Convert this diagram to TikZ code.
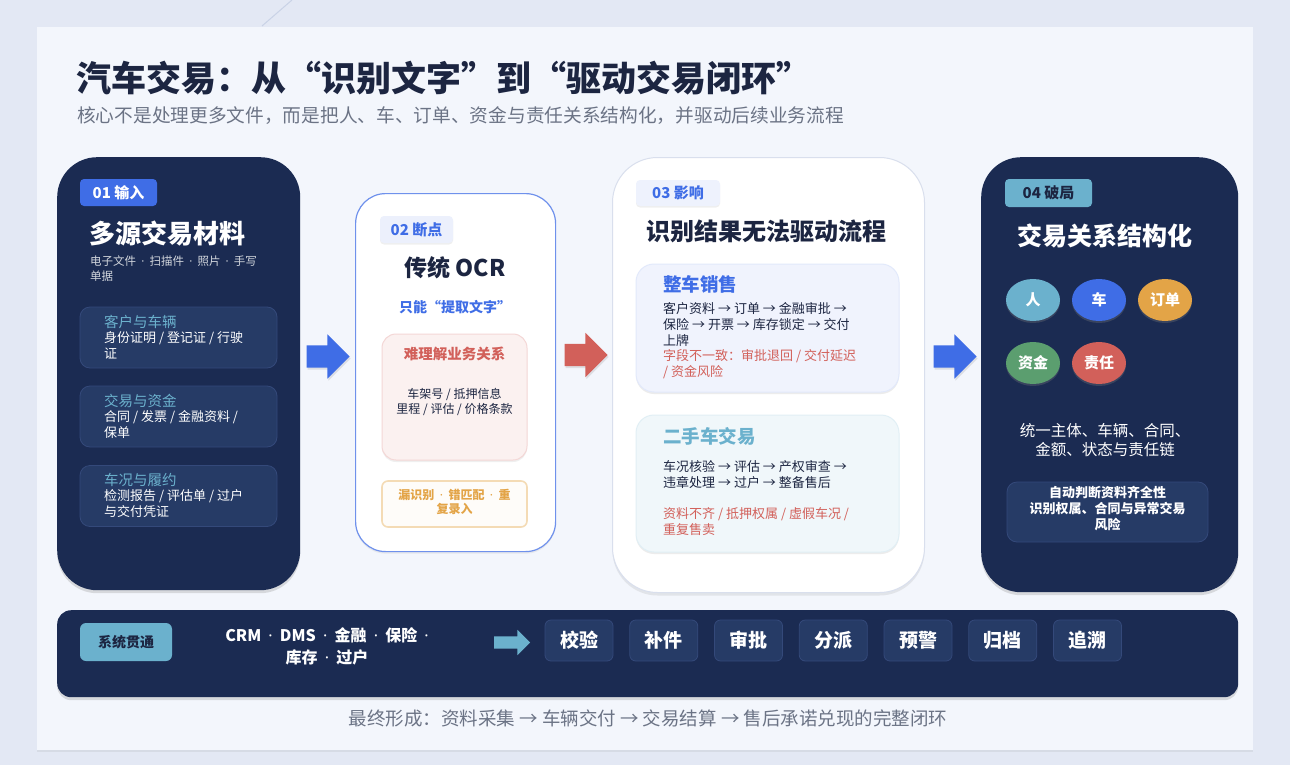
\documentclass[tikz,border=0pt]{standalone}
\usepackage{fontspec}
\setmainfont{Noto Sans CJK SC}
\newfontfamily\latinfont{Noto Sans}
\newcommand{\mdot}{\hspace{0.45em}{\latinfont ·}\hspace{0.45em}}
\usepackage{tikz}
\usetikzlibrary{shapes.geometric,shapes.arrows,shadows}
\definecolor{pagebg}{HTML}{E3E8F4}
\definecolor{panel}{HTML}{F3F6FC}
\definecolor{navy}{HTML}{1B2B52}
\definecolor{subnavy}{HTML}{263B66}
\definecolor{subedge}{HTML}{34497A}
\definecolor{ink}{HTML}{1C2541}
\definecolor{muted}{HTML}{6B7385}
\definecolor{brand}{HTML}{3F6DE6}
\definecolor{teal}{HTML}{6BB1CD}
\definecolor{alert}{HTML}{D2605A}
\definecolor{amber}{HTML}{E3A447}
\definecolor{moss}{HTML}{5B9E6F}
\definecolor{softline}{HTML}{C9D2E6}

\begin{document}
\begin{tikzpicture}[x=1pt,y=-1pt,
  darkcard/.style={fill=navy,rounded corners=40pt,inner sep=0pt,
    drop shadow={opacity=0.25,shadow xshift=0pt,shadow yshift=-3pt}},
  subcard/.style={fill=subnavy,draw=subedge,line width=0.8pt,rounded corners=10pt,inner sep=0pt},
  tagbox/.style={rounded corners=4pt,inner sep=0pt,font=\fontsize{15}{18}\selectfont\bfseries},
  blockarrow/.style={single arrow,single arrow head extend=11pt,inner xsep=0pt,inner ysep=11pt,
    minimum height=43pt,
    drop shadow={opacity=0.2,shadow xshift=1pt,shadow yshift=-2pt}},
  bubble/.style={ellipse,minimum width=54pt,minimum height=42pt,inner sep=0pt,text=white,
    font=\fontsize{15}{18}\selectfont\bfseries,
    drop shadow={opacity=0.3,shadow xshift=0pt,shadow yshift=-2pt}},
  chip/.style={fill=subnavy,draw=subedge,line width=0.8pt,rounded corners=6pt,inner sep=0pt,
    minimum width=68pt,minimum height=41pt,text=white,font=\fontsize{19}{22}\selectfont\bfseries}]
  \useasboundingbox (0,0) rectangle (1290,765);
  \fill[pagebg] (0,0) rectangle (1290,765);
  \draw[softline,line width=1pt] (262,26) -- (292,0);
  \node[fill=panel,minimum width=1216pt,minimum height=723pt,inner sep=0pt,anchor=north west,
    drop shadow={opacity=0.12,shadow xshift=0pt,shadow yshift=-2pt}] (page) at (37,27) {};

  % heading
  \node[anchor=west,inner sep=0pt,text=ink,font=\fontsize{35}{40}\selectfont\bfseries] (title) at (76,78)
    {汽车交易：从“识别文字”到“驱动交易闭环”};
  \node[anchor=west,inner sep=0pt,text=muted,font=\fontsize{18.7}{22}\selectfont] (subtitle) at (77,116)
    {核心不是处理更多文件，而是把人、车、订单、资金与责任关系结构化，并驱动后续业务流程};

  % 01 input
  \node[darkcard,minimum width=243pt,minimum height=433pt,anchor=north west] (inA) at (57,157) {};
  \node[tagbox,fill=brand,text=white,minimum width=77pt,minimum height=27pt] (tagA) at (118.5,192.5) {01 输入};
  \node[anchor=west,inner sep=0pt,text=white,font=\fontsize{26}{30}\selectfont\bfseries] (headA) at (89,234) {多源交易材料};
  \node[anchor=west,inner sep=0pt,align=left,text=white!80!navy,font=\fontsize{11.5}{15}\selectfont] (noteA) at (90,268.5)
    {电子文件\mdot 扫描件\mdot 照片\mdot 手写\\单据};
  \foreach \yc/\hy/\by/\hd/\bd in {337.5/322/345.5/客户与车辆/{身份证明 / 登记证 / 行驶\\证},
      416.5/401/424.5/交易与资金/{合同 / 发票 / 金融资料 /\\保单},
      496/480/503.5/车况与履约/{检测报告 / 评估单 / 过户\\与交付凭证}}{
    \node[subcard,minimum width=197pt,minimum height=61pt] at (178.5,\yc) {};
    \node[anchor=west,inner sep=0pt,text=teal,font=\fontsize{14.5}{17}\selectfont] at (104,\hy) {\hd};
    \node[anchor=west,inner sep=0pt,align=left,text=white,font=\fontsize{13}{15.5}\selectfont] at (104,\by) {\bd};
  }

  % 02 break point
  \node[fill=white,draw=brand!75,line width=1.2pt,rounded corners=30pt,inner sep=0pt,
    minimum width=200pt,minimum height=358pt,anchor=north west,
    drop shadow={opacity=0.12,shadow xshift=0pt,shadow yshift=-2pt}] (ocr) at (355,193) {};
  \node[tagbox,fill=brand!10,text=brand,minimum width=73pt,minimum height=27pt,
    drop shadow={opacity=0.12,shadow xshift=0pt,shadow yshift=-1.5pt}] (tagB) at (416.5,229.5) {02 断点};
  \node[inner sep=0pt,text=ink,font=\fontsize{23}{27}\selectfont\bfseries] (headB) at (455,268) {传统 OCR};
  \node[inner sep=0pt,text=brand,font=\fontsize{14}{17}\selectfont\bfseries] (onlyB) at (455,307) {只能“提取文字”};
  \node[fill=alert!9,draw=alert!25,line width=1pt,rounded corners=14pt,inner sep=0pt,
    minimum width=145pt,minimum height=126pt,
    drop shadow={opacity=0.12,shadow xshift=0pt,shadow yshift=-2pt}] (gapB) at (454.5,397) {};
  \node[inner sep=0pt,text=alert,font=\fontsize{14.5}{17}\selectfont\bfseries] (gapHead) at (454.5,354) {难理解业务关系};
  \node[inner sep=0pt,align=center,text=ink,font=\fontsize{12}{15}\selectfont] (gapBody) at (454.5,401.5)
    {车架号 / 抵押信息\\里程 / 评估 / 价格条款};
  \node[fill=amber!3,draw=amber!40,line width=1.6pt,rounded corners=6pt,inner sep=0pt,
    minimum width=145pt,minimum height=46pt] (errB) at (454.5,504) {};
  \node[inner sep=0pt,align=center,text=amber,font=\fontsize{12}{14}\selectfont\bfseries] (errText) at (454.5,502)
    {漏识别\mdot 错匹配\mdot 重\\复录入};

  % 03 impact
  \node[fill=white,draw=softline!70,line width=1pt,rounded corners=45pt,inner sep=0pt,
    minimum width=312pt,minimum height=435pt,anchor=north west,
    drop shadow={opacity=0.15,shadow xshift=0pt,shadow yshift=-3pt}] (impact) at (612,157) {};
  \node[tagbox,fill=brand!9,text=brand,minimum width=84pt,minimum height=26pt,
    drop shadow={opacity=0.12,shadow xshift=0pt,shadow yshift=-1.5pt}] (tagC) at (678,193) {03 影响};
  \node[inner sep=0pt,text=ink,font=\fontsize{24}{28}\selectfont\bfseries] (headC) at (766,231) {识别结果无法驱动流程};
  \node[fill=brand!8,draw=brand!15,line width=1pt,rounded corners=18pt,inner sep=0pt,
    minimum width=263pt,minimum height=128pt,
    drop shadow={opacity=0.15,shadow xshift=0pt,shadow yshift=-2pt}] (newcar) at (767.5,328) {};
  \node[anchor=west,inner sep=0pt,text=brand,font=\fontsize{18.5}{22}\selectfont\bfseries] (newHead) at (663,284) {整车销售};
  \node[anchor=west,inner sep=0pt,align=left,text=ink,font=\fontsize{13}{16}\selectfont] (newFlow) at (663,325)
    {客户资料 → 订单 → 金融审批 →\\保险 → 开票 → 库存锁定 → 交付\\上牌};
  \node[anchor=west,inner sep=0pt,align=left,text=alert,font=\fontsize{13}{16}\selectfont] (newRisk) at (663,364)
    {字段不一致：审批退回 / 交付延迟\\/ 资金风险};
  \node[fill=teal!10,draw=teal!20,line width=1pt,rounded corners=18pt,inner sep=0pt,
    minimum width=263pt,minimum height=137pt,
    drop shadow={opacity=0.15,shadow xshift=0pt,shadow yshift=-2pt}] (usedcar) at (767.5,483.5) {};
  \node[anchor=west,inner sep=0pt,text=teal,font=\fontsize{18.5}{22}\selectfont\bfseries] (usedHead) at (663,436) {二手车交易};
  \node[anchor=west,inner sep=0pt,align=left,text=ink,font=\fontsize{13}{16}\selectfont] (usedFlow) at (663,475)
    {车况核验 → 评估 → 产权审查 →\\违章处理 → 过户 → 整备售后};
  \node[anchor=west,inner sep=0pt,align=left,text=alert,font=\fontsize{13}{16}\selectfont] (usedRisk) at (663,522)
    {资料不齐 / 抵押权属 / 虚假车况 /\\重复售卖};

  % 04 breakthrough
  \node[darkcard,minimum width=257pt,minimum height=435pt,anchor=north west] (solve) at (981,157) {};
  \node[tagbox,fill=teal,text=ink,minimum width=87pt,minimum height=28pt] (tagD) at (1048.5,193) {04 破局};
  \node[inner sep=0pt,text=white,font=\fontsize{25}{29}\selectfont\bfseries] (headD) at (1105,236) {交易关系结构化};
  \node[bubble,fill=teal] (person) at (1033,300) {人};
  \node[bubble,fill=brand] (car) at (1099,300) {车};
  \node[bubble,fill=amber] (order) at (1165,300) {订单};
  \node[bubble,fill=moss] (fund) at (1033,363) {资金};
  \node[bubble,fill=alert] (duty) at (1099,363) {责任};
  \node[inner sep=0pt,align=center,text=white,font=\fontsize{15.5}{19}\selectfont] (unify) at (1105,440.5)
    {统一主体、车辆、合同、\\金额、状态与责任链};
  \node[subcard,minimum width=201pt,minimum height=60pt] (judge) at (1107.5,512) {};
  \node[inner sep=0pt,align=center,text=white,font=\fontsize{13}{16}\selectfont\bfseries] (judgeText) at (1107.5,509)
    {自动判断资料齐全性\\识别权属、合同与异常交易\\风险};

  % arrows between stages
  \node[blockarrow,fill=brand] (arrA) at (322.5,356.5) {};
  \node[blockarrow,fill=alert] (arrB) at (580.5,355) {};
  \node[blockarrow,fill=brand] (arrC) at (949.5,356.5) {};

  % system bar
  \node[fill=navy,rounded corners=14pt,inner sep=0pt,minimum width=1181pt,minimum height=87pt,anchor=north west,
    drop shadow={opacity=0.25,shadow xshift=0pt,shadow yshift=-3pt}] (sysbar) at (57,610) {};
  \node[fill=teal,rounded corners=6pt,inner sep=0pt,minimum width=92pt,minimum height=38pt,text=ink,
    font=\fontsize{14}{17}\selectfont\bfseries] (sysTag) at (126,642) {系统贯通};
  \node[inner sep=0pt,align=center,text=white,font=\fontsize{16}{22}\selectfont\bfseries] (sysList) at (327,646)
    {CRM\mdot DMS\mdot 金融\mdot 保险\mdot\\库存\mdot 过户};
  \node[single arrow,single arrow head extend=6.5pt,inner xsep=0pt,inner ysep=6pt,minimum height=36pt,
    fill=teal] (sysArr) at (509,642.5) {};
  \foreach \t [count=\i] in {校验,补件,审批,分派,预警,归档,追溯}{
    \node[chip] (chip\i) at ({579+(\i-1)*84.75},640.5) {\t};
  }

  % closing line
  \node[inner sep=0pt,text=muted,font=\fontsize{18.5}{21}\selectfont] (closing) at (648,718)
    {最终形成：资料采集 → 车辆交付 → 交易结算 → 售后承诺兑现的完整闭环};
\end{tikzpicture}
\end{document}
